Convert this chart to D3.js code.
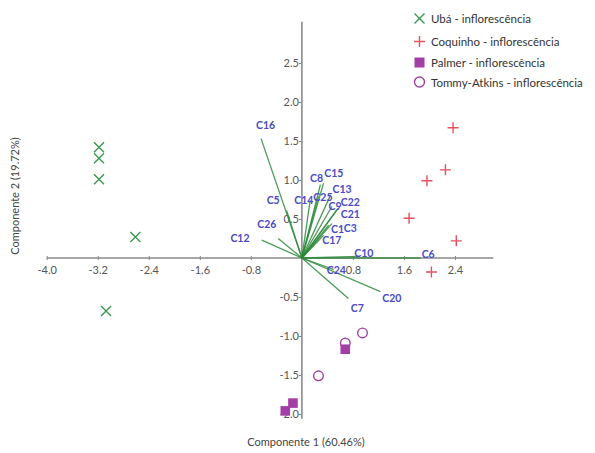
<!DOCTYPE html>
<html><head><meta charset="utf-8">
<script src="https://cdn.jsdelivr.net/npm/d3@7"></script>
<style>body{margin:0;background:#fff;}svg{display:block;font-family:Lato,"Open Sans",sans-serif;}</style>
</head><body>
<svg id="c" width="595" height="453"></svg>
<script>
// ---- data ----
const xTicks = [-4.0, -3.2, -2.4, -1.6, -0.8, 0.8, 1.6, 2.4];
const yTicks = [-2.0, -1.5, -1.0, -0.5, 0.5, 1.0, 1.5, 2.0, 2.5];
const ubaX = [-3.18, -3.18, -3.18, -2.61, -3.07];
const ubaY = [1.42, 1.28, 1.01, 0.27, -0.68];
const coqX = [2.37, 2.25, 1.96, 1.68, 2.42, 2.03];
const coqY = [1.67, 1.13, 0.99, 0.51, 0.22, -0.18];
const palX = [-0.14, -0.26, 0.68];
const palY = [-1.86, -1.96, -1.17];
const tomX = [0.68, 0.95, 0.26];
const tomY = [-1.09, -0.96, -1.51];
const vecNames = ["C16","C5","C26","C12","C14","C8","C15","C25","C13","C9","C22","C21","C1","C3","C17","C10","C6","C24","C20","C7"];
const vecX = [-0.64,-0.24,-0.37,-0.63,0.13,0.29,0.34,0.26,0.44,0.47,0.57,0.55,0.42,0.47,0.34,0.90,1.86,0.50,1.23,0.73];
const vecY = [1.53,0.61,0.25,0.23,0.74,0.94,0.96,0.79,0.79,0.66,0.64,0.62,0.42,0.44,0.29,0.02,0.00,-0.15,-0.43,-0.52];
const labX = [-0.57,-0.45,-0.55,-0.97,0.03,0.23,0.50,0.33,0.63,0.52,0.76,0.76,0.56,0.76,0.47,0.97,1.98,0.54,1.41,0.87];
const labY = [1.71,0.74,0.44,0.26,0.75,1.02,1.09,0.78,0.89,0.67,0.72,0.57,0.37,0.39,0.23,0.06,0.05,-0.15,-0.51,-0.64];
const legendLabels = ["Ubá - inflorescência","Coquinho - inflorescência","Palmer - inflorescência","Tommy-Atkins - inflorescência"];
const xTitle = "Componente 1  (60.46%)";
const yTitle = "Componente 2  (19.72%)";

// ---- drawing ----
const svg = d3.select("#c");
const x = d3.scaleLinear().domain([-4, 2.4]).range([46.7, 455]);
const y = d3.scaleLinear().domain([-2, 2.5]).range([414, 63]);
const axisCol = "#8a8a8a", tickText = "#555";
const green = "#3b9a52", red = "#e8505e", purple = "#a23ea6";

// axes lines
svg.append("line").attr("x1", x(-4.0)).attr("x2", x(3.0)).attr("y1", y(0)).attr("y2", y(0))
  .attr("stroke", axisCol).attr("stroke-width", 1.6);
svg.append("line").attr("x1", x(0)).attr("x2", x(0)).attr("y1", y(3.03)).attr("y2", y(-2.06))
  .attr("stroke", axisCol).attr("stroke-width", 1.6);

// x ticks
const xa = svg.append("g").attr("transform", `translate(0,${y(0)})`)
  .call(d3.axisBottom(x).tickValues(xTicks).tickSize(3).tickFormat(d3.format(".1f")));
xa.select(".domain").remove();
xa.selectAll(".tick line").attr("stroke", axisCol).attr("y1", -2).attr("y2", 2);
xa.selectAll(".tick text").attr("fill", tickText).attr("font-size", 11).attr("dy", "0.9em")
  .attr("font-family", "Lato,sans-serif").text(d => d3.format(".1f")(d).replace("−","-"));

// y ticks
const ya = svg.append("g").attr("transform", `translate(${x(0)},0)`)
  .call(d3.axisLeft(y).tickValues(yTicks).tickSize(3).tickFormat(d3.format(".1f")));
ya.select(".domain").remove();
ya.selectAll(".tick line").attr("stroke", axisCol);
ya.selectAll(".tick text").attr("fill", tickText).attr("font-size", 11).attr("x", -3)
  .attr("font-family", "Lato,sans-serif").text(d => d3.format(".1f")(d).replace("−","-"));

// vectors
const vecs = vecNames.map((n, i) => ({n, x: vecX[i], y: vecY[i], lx: labX[i], ly: labY[i]}));
svg.append("g").selectAll("line").data(vecs).join("line")
  .attr("x1", x(0)).attr("y1", y(0))
  .attr("x2", d => x(d.x)).attr("y2", d => y(d.y))
  .attr("stroke", "#2e8a3c").attr("stroke-opacity", 0.85).attr("stroke-width", 1.3);
svg.append("g").selectAll("text").data(vecs).join("text")
  .attr("x", d => x(d.lx)).attr("y", d => y(d.ly))
  .attr("text-anchor", "middle").attr("dominant-baseline", "central")
  .attr("font-size", 10.5).attr("font-weight", "bold").attr("fill", "#4a4ac4")
  .text(d => d.n);

// markers
function cross(g, cx, cy, s) {
  g.append("path").attr("d", `M${cx-s},${cy-s}L${cx+s},${cy+s}M${cx-s},${cy+s}L${cx+s},${cy-s}`)
    .attr("stroke", green).attr("stroke-width", 1.4).attr("fill", "none");
}
function plus(g, cx, cy, s) {
  g.append("path").attr("d", `M${cx-s},${cy}L${cx+s},${cy}M${cx},${cy-s}L${cx},${cy+s}`)
    .attr("stroke", red).attr("stroke-width", 1.4).attr("fill", "none");
}
function square(g, cx, cy, s) {
  g.append("rect").attr("x", cx-s).attr("y", cy-s).attr("width", 2*s).attr("height", 2*s).attr("fill", purple);
}
function circ(g, cx, cy, r) {
  g.append("circle").attr("cx", cx).attr("cy", cy).attr("r", r)
    .attr("fill", "none").attr("stroke", purple).attr("stroke-width", 1.4);
}
const pts = svg.append("g");
ubaX.forEach((v, i) => cross(pts, x(v), y(ubaY[i]), 5));
coqX.forEach((v, i) => plus(pts, x(v), y(coqY[i]), 5.5));
palX.forEach((v, i) => square(pts, x(v), y(palY[i]), 4.8));
tomX.forEach((v, i) => circ(pts, x(v), y(tomY[i]), 4.8));

// legend
const lg = svg.append("g");
const ly = [18.5, 41.5, 62.5, 82];
cross(lg, 419.5, ly[0], 5);
plus(lg, 419.5, ly[1], 5.5);
square(lg, 419.5, ly[2], 5);
circ(lg, 419.5, ly[3], 5);
legendLabels.forEach((t, i) => lg.append("text").attr("x", 431).attr("y", ly[i])
  .attr("dominant-baseline", "central").attr("font-size", 11.5).attr("fill", "#333").text(t));

// titles
svg.append("text").attr("x", 306).attr("y", 441).attr("text-anchor", "middle")
  .attr("dominant-baseline", "central").attr("font-size", 11).attr("fill", "#444").text(xTitle);
svg.append("text").attr("transform", "translate(14,196) rotate(-90)").attr("text-anchor", "middle")
  .attr("dominant-baseline", "central").attr("font-size", 11).attr("fill", "#444").text(yTitle);
</script>
</body></html>
